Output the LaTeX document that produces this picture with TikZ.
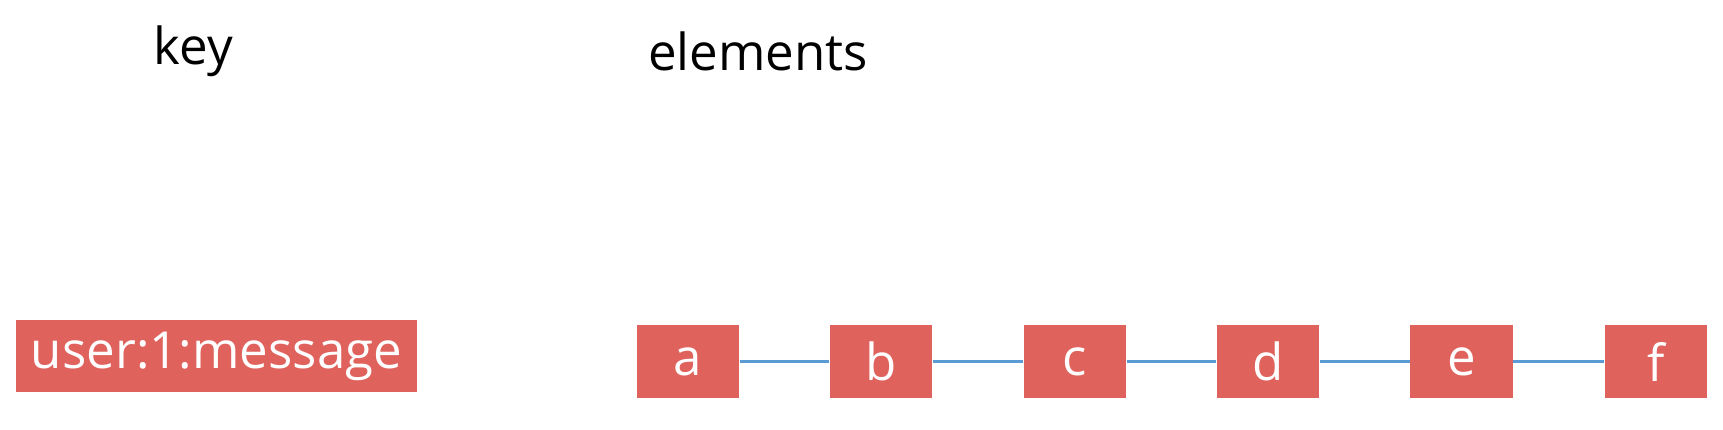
\documentclass[tikz,border=0pt]{standalone}
\usepackage{fontspec}
\setmainfont{Open Sans}
\definecolor{boxred}{HTML}{E0625D}
\definecolor{linkblue}{HTML}{5B9BD5}
\tikzset{
  cell/.style={fill=boxred, text=white, minimum width=0.93cm, minimum height=0.66cm, inner sep=0pt, font=\fontsize{13.2pt}{16pt}\selectfont},
  title/.style={font=\fontsize{13.2pt}{16pt}\selectfont}
}
\begin{document}
\begin{tikzpicture}[x=0.01cm,y=-0.01cm]
  \useasboundingbox (0,0) rectangle (1568,391);
  \node[title] (keytitle) at (176,47) {key};
  \node[title] (elemtitle) at (690,47) {elements};
  \node[cell, minimum width=3.65cm, minimum height=0.65cm] (keybox) at (197,324) {user:1:message};
  \foreach \l/\x in {a/626,b/802,c/978,d/1154,e/1330,f/1507} {
    \node[cell] (n\l) at (\x,329) {\l};
  };
  \foreach \i/\j in {a/b,b/c,c/d,d/e,e/f} {
    \draw[linkblue, line width=0.9pt] (n\i) -- (n\j);
  };
\end{tikzpicture}
\end{document}
